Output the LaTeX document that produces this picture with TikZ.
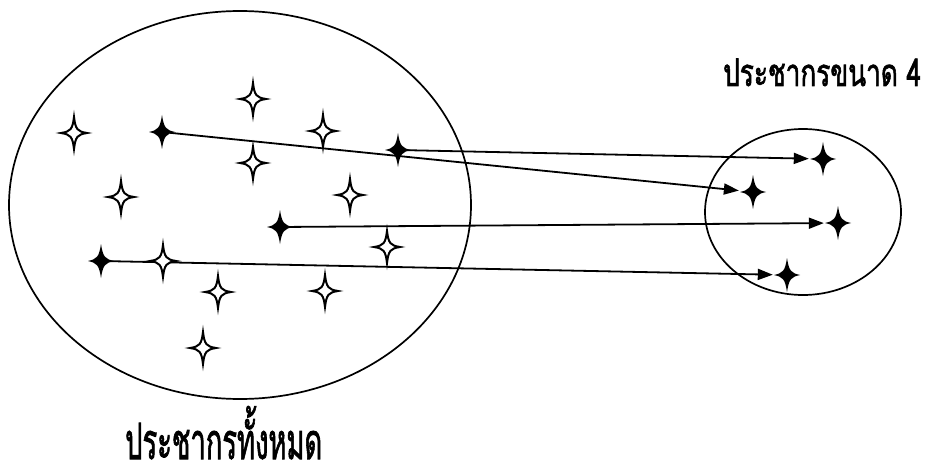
\documentclass[tikz,border=0pt]{standalone}
\usepackage{fontspec}
\newfontfamily\thaifont[Script=Thai, FakeBold=2]{Loma}
\usepackage{tikz}
\usetikzlibrary{arrows.meta}

\tikzset{
  star/.style={circle, inner sep=0pt, minimum size=16pt},
  pics/hollowstar/.style={code={
    \draw[line width=2pt, fill=white] (0,-16) .. controls (1.5,-3.5) and (3.5,-1.5) .. (13,0) .. controls (3.5,1.5) and (1.5,3.5) .. (0,16) .. controls (-1.5,3.5) and (-3.5,1.5) .. (-13,0) .. controls (-3.5,-1.5) and (-1.5,-3.5) .. cycle;
  }},
  pics/blackstar/.style={code={
    \fill[black] (0,-17) .. controls (2,-4) and (4,-2) .. (13,0) .. controls (4,2) and (2,4) .. (0,17) .. controls (-2,4) and (-4,2) .. (-13,0) .. controls (-4,-2) and (-2,-4) .. cycle;
  }},
  pick/.style={line width=1.8pt, -{Triangle[length=15pt, width=11pt]}, shorten >=6pt},
  title/.style={font=\thaifont, inner sep=0pt, anchor=base west}
}

\begin{document}
\begin{tikzpicture}[x=1pt, y=-1pt]
    \useasboundingbox (0,0) rectangle (926,468);

    % the two populations
    \draw[line width=1.7pt] (240,205) ellipse (231 and 194);
    \draw[line width=1.7pt] (803,212) ellipse (98 and 83);

    % stars that are not picked
    \node[star] (h1) at (253,99) {};
    \node[star] (h2) at (74,133) {};
    \node[star] (h3) at (323,131) {};
    \node[star] (h4) at (253,163) {};
    \node[star] (h5) at (121,197) {};
    \node[star] (h6) at (350,195) {};
    \node[star] (h7) at (387,247) {};
    \node[star] (h8) at (163,261) {};
    \node[star] (h9) at (218,292) {};
    \node[star] (h10) at (325,291) {};
    \node[star] (h11) at (203,348) {};

    % stars that are picked
    \node[star] (p1) at (162,132) {};
    \node[star] (p2) at (398,150) {};
    \node[star] (p3) at (280,227) {};
    \node[star] (p4) at (101,261) {};

    % the sample
    \node[star] (s1) at (823,159) {};
    \node[star] (s2) at (753,192) {};
    \node[star] (s3) at (838,223) {};
    \node[star] (s4) at (787,275) {};

    % arrows from population to sample
    \draw[pick] (p1) -- (s2);
    \draw[pick] (p2) -- (s1);
    \draw[pick] (p3) -- (s3);
    \draw[pick] (p4) -- (s4);

    \pic at (h1) {hollowstar};
    \pic at (h2) {hollowstar};
    \pic at (h3) {hollowstar};
    \pic at (h4) {hollowstar};
    \pic at (h5) {hollowstar};
    \pic at (h6) {hollowstar};
    \pic at (h7) {hollowstar};
    \pic at (h8) {hollowstar};
    \pic at (h9) {hollowstar};
    \pic at (h10) {hollowstar};
    \pic at (h11) {hollowstar};
    \pic at (p1) {blackstar};
    \pic at (p2) {blackstar};
    \pic at (p3) {blackstar};
    \pic at (p4) {blackstar};
    \pic at (s1) {blackstar};
    \pic at (s2) {blackstar};
    \pic at (s3) {blackstar};
    \pic at (s4) {blackstar};

    % labels
    \node[title] (sample) at (723,86) {\resizebox{198pt}{\height}{\fontsize{38}{44}\selectfont ประชากรขนาด 4}};
    \node[title] (population) at (125,459) {\resizebox{197pt}{\height}{\fontsize{50}{58}\selectfont ประชากรทั้งหมด}};
\end{tikzpicture}
\end{document}
